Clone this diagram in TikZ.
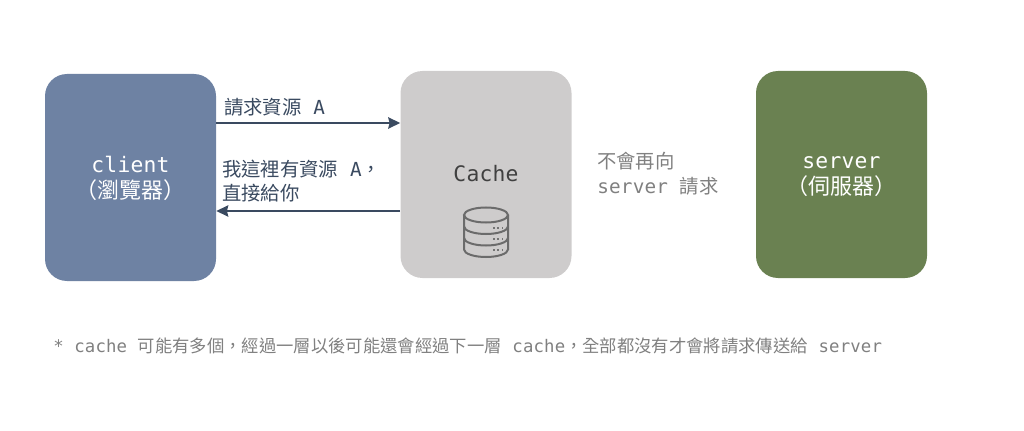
\documentclass[tikz,border=0pt]{standalone}
\usepackage{fontspec}
\usetikzlibrary{arrows.meta, positioning}
\setmainfont{Noto Sans CJK TC}
\newfontfamily\latfont[LetterSpace=1]{DejaVu Sans Mono}
\newcommand{\lat}[1]{{\latfont #1}}
\newcommand{\tierlat}[1]{{\fontsize{16}{19.5}\selectfont\latfont #1}}
\definecolor{clientblue}{HTML}{6E82A3}
\definecolor{cachegray}{HTML}{CECCCC}
\definecolor{servergreen}{HTML}{6A8151}
\definecolor{arrowdark}{HTML}{3A4A60}
\definecolor{notegray}{HTML}{808080}

\begin{document}
\begin{tikzpicture}[
  x=0.75pt, y=-0.75pt,
  tier/.style={rounded corners=16.5pt, minimum width=128.25pt, minimum height=155.25pt,
               inner sep=0pt},
  tierlab/.style={inner sep=0pt, align=center, font=\fontsize{16.5}{19.5}\selectfont},
  lab/.style={anchor=west, inner sep=0pt, align=left, text=arrowdark,
              font=\fontsize{14.5}{18.5}\selectfont},
  note/.style={lab, text=notegray},
  arr/.style={-{Stealth[length=9pt, width=8.5pt, inset=1pt]}, line width=1.2pt, arrowdark},
  dbline/.style={draw=black!58, line width=1.5pt},
  dbdots/.style={draw=black!55, line width=1.4pt, dash pattern=on 1.2pt off 2.1pt}
]
  \useasboundingbox (0,0) rectangle (1024,431);
  % three tiers
  \node[tier, fill=clientblue] (client) at (130.5,177.5) {};
  \node[tier, fill=cachegray] (cache) at (486,174.5) {};
  \node[tier, fill=servergreen] (server) at (841.5,174.5) {};
  \node[tierlab, text=white] (clientlab) at (130.5,178.5) {\tierlat{client}\\（瀏覽器）};
  \node[tierlab, text=black!75] (cachelab) at (486,174) {\tierlat{Cache}};
  \node[tierlab, text=white] (serverlab) at (841.5,176.5) {\tierlat{server}\\（伺服器）};

  % request / response
  \coordinate (reqstart) at (client.east |- 0,123);
  \coordinate (reqend) at (cache.west |- 0,123);
  \coordinate (respstart) at (cache.west |- 0,211);
  \coordinate (respend) at (client.east |- 0,211);
  \draw[arr] (reqstart) -- (reqend);
  \draw[arr] (respstart) -- (respend);
  \node[lab] (req) at (224,107) {請求資源\lat{ A}};
  \node[lab] (resp) at (222,181) {我這裡有資源\lat{ A}，\\直接給你};
  \node[note] (noreq) at (597,173.5) {不會再向\\\lat{server }請求};

  % database icon
  \draw[dbline] (464,215) -- (464,249.5) arc[start angle=180, end angle=360, x radius=22, y radius=-7.5] -- (508,215);
  \draw[dbline] (486,215) ellipse[x radius=22, y radius=7.5];
  \draw[dbline] (464,226.5) arc[start angle=180, end angle=360, x radius=22, y radius=-7.5];
  \draw[dbline] (464,238) arc[start angle=180, end angle=360, x radius=22, y radius=-7.5];
  \draw[dbdots] (493,228) -- (503,228);
  \draw[dbdots] (493,239) -- (503,239);
  \draw[dbdots] (493,250) -- (503,250);

  % footnote
  \node[note, font=\fontsize{13}{15}\selectfont] (footnote) at (53,346)
    {\lat{* cache }可能有多個，經過一層以後可能還會經過下一層\lat{ cache}，全部都沒有才會將請求傳送給\lat{ server}};
\end{tikzpicture}
\end{document}
